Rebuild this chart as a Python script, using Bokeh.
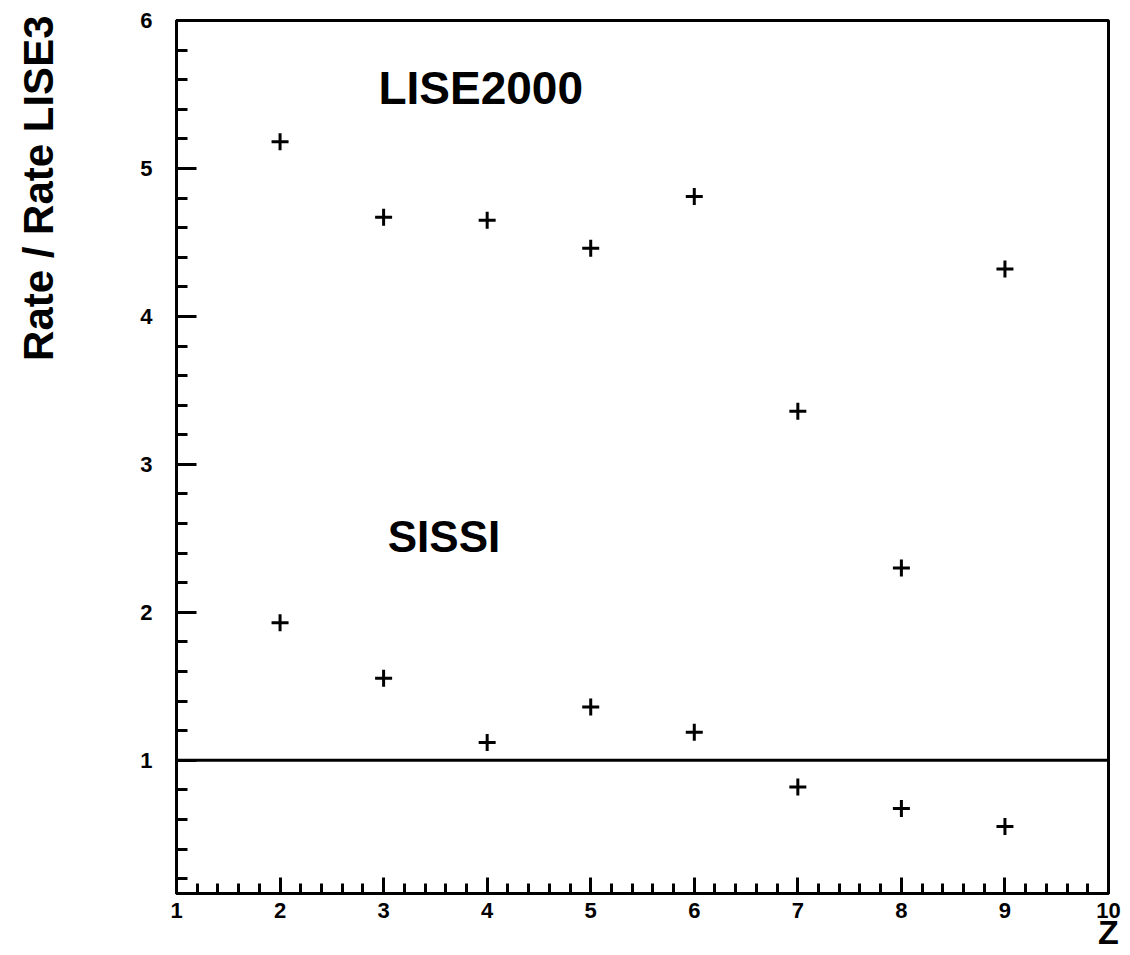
from bokeh.plotting import figure
from bokeh.models import Range1d, SingleIntervalTicker, Span, Label, Title, ColumnDataSource
from bokeh.embed import file_html
from bokeh.resources import INLINE

# Data
z_values = [2, 3, 4, 5, 6, 7, 8, 9]
lise2000_ratio = [5.18, 4.67, 4.65, 4.46, 4.81, 3.36, 2.30, 4.32]
sissi_ratio = [1.93, 1.555, 1.12, 1.36, 1.19, 0.82, 0.675, 0.553]
x_ticks = [1, 2, 3, 4, 5, 6, 7, 8, 9, 10]
y_ticks = [1, 2, 3, 4, 5, 6]
reference_level = 1.0

FONT = "Liberation Sans"

p = figure(width=1130, height=955, output_backend="svg", toolbar_location=None,
           x_range=Range1d(1, 10), y_range=Range1d(0.1, 6),
           min_border_left=176, min_border_right=22, min_border_top=20, min_border_bottom=62)
p.background_fill_color = "white"
p.border_fill_color = "white"
p.grid.visible = False
p.outline_line_color = "black"
p.outline_line_width = 3

for ax in (p.xaxis[0], p.yaxis[0]):
    ax.ticker = SingleIntervalTicker(interval=1, num_minor_ticks=5)
    ax.axis_line_width = 3
    ax.axis_line_color = "black"
    ax.major_tick_line_width = 3
    ax.minor_tick_line_width = 3
    ax.major_tick_out = 0
    ax.minor_tick_out = 0
    ax.major_label_text_font = FONT
    ax.major_label_text_font_style = "bold"
    ax.major_label_text_font_size = "22px"
    ax.major_label_text_color = "black"

p.yaxis.major_tick_in = 20
p.yaxis.minor_tick_in = 11
p.xaxis.major_tick_in = 16
p.xaxis.minor_tick_in = 10
p.yaxis.major_label_standoff = 24
p.xaxis.major_label_standoff = 9

# blank spacer label widens the y axis panel so the title sits at the far left
p.yaxis.axis_label = "\u00a0"
p.yaxis.axis_label_text_font_size = "10px"
p.yaxis.axis_label_standoff = 50

# y title, aligned to the top of the frame
p.add_layout(Title(text="Rate / Rate LISE3", align="right", standoff=24, offset=-5,
                   text_font=FONT, text_font_style="bold", text_font_size="42px",
                   text_color="black"), "left")

p.xaxis.axis_label = "Z"
p.xaxis.axis_label_text_font = FONT
p.xaxis.axis_label_text_font_style = "bold"
p.xaxis.axis_label_text_color = "black"
p.xaxis.axis_label_text_font_size = "34px"
p.xaxis.axis_label_align = "end"
p.xaxis.axis_label_standoff = -8

p.add_layout(Span(location=reference_level, dimension="width", line_color="black", line_width=3))

src_l = ColumnDataSource(dict(x=z_values, y=lise2000_ratio))
src_s = ColumnDataSource(dict(x=z_values, y=sissi_ratio))
p.scatter("x", "y", source=src_l, marker="cross", size=17, line_width=3, line_color="black")
p.scatter("x", "y", source=src_s, marker="cross", size=17, line_width=3, line_color="black")

p.add_layout(Label(x=2.95, y=5.72, text="LISE2000", text_font=FONT, text_font_style="bold",
                   text_font_size="46px", text_align="left", text_baseline="top", text_color="black"))
p.add_layout(Label(x=3.04, y=2.68, text="SISSI", text_font=FONT, text_font_style="bold",
                   text_font_size="44px", text_align="left", text_baseline="top", text_color="black"))

open("out.html", "w").write(file_html(p, INLINE))
